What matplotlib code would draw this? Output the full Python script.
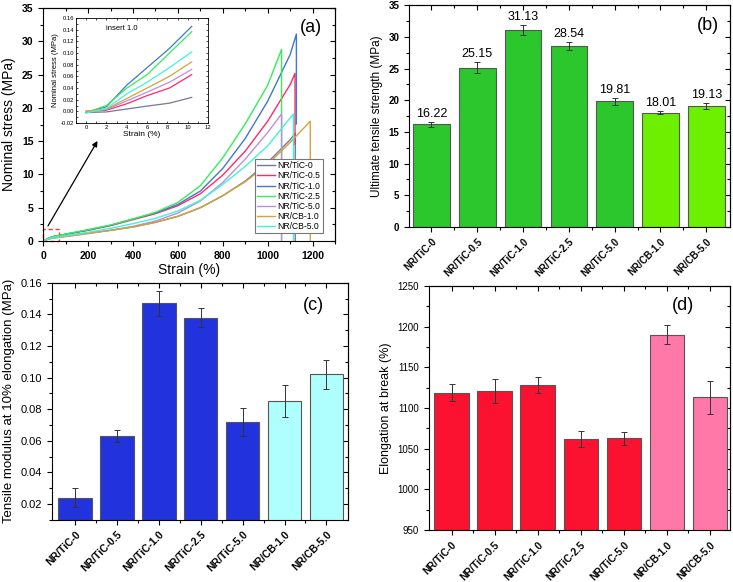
import matplotlib
matplotlib.use('Agg')
import matplotlib.pyplot as plt
from matplotlib.ticker import MultipleLocator, FixedLocator
import numpy as np

plt.rcParams['font.family'] = ['Liberation Sans', 'DejaVu Sans']

samples = ['NR/TiC-0', 'NR/TiC-0.5', 'NR/TiC-1.0', 'NR/TiC-2.5', 'NR/TiC-5.0', 'NR/CB-1.0', 'NR/CB-5.0']
line_colors = ['#77779a', '#ff2a64', '#3f78cc', '#33ee55', '#b890e0', '#d4a33a', '#3ff5d8']

# (a) stress-strain curves (strain %, stress MPa)
strain_tic0 = [0, 25, 50, 100, 200, 300, 400, 500, 600, 700, 800, 900, 1000, 1100, 1123, 1123]
stress_tic0 = [0, 0.35, 0.5, 0.75, 1.2, 1.6, 2.1, 2.8, 3.7, 5.0, 6.8, 9.0, 11.8, 15.2, 16.2, 0]
strain_tic05 = [0, 25, 50, 100, 200, 300, 400, 500, 600, 700, 800, 900, 1000, 1100, 1122, 1122]
stress_tic05 = [0, 0.45, 0.7, 1.0, 1.6, 2.3, 3.2, 4.1, 5.3, 7.1, 9.9, 13.5, 18.0, 23.5, 25.2, 14.5]
strain_tic1 = [0, 25, 50, 100, 200, 300, 400, 500, 600, 700, 800, 900, 1000, 1100, 1128, 1128]
stress_tic1 = [0, 0.45, 0.7, 1.0, 1.65, 2.35, 3.3, 4.2, 5.5, 7.5, 10.9, 15.4, 21.0, 28.0, 31.1, 17.6]
strain_tic25 = [0, 25, 50, 100, 200, 300, 400, 500, 600, 700, 800, 900, 1000, 1062, 1062]
stress_tic25 = [0, 0.45, 0.7, 1.05, 1.7, 2.4, 3.3, 4.3, 5.8, 8.3, 12.5, 17.6, 23.4, 28.8, 0]
strain_tic5 = [0, 25, 50, 100, 200, 300, 400, 500, 600, 700, 800, 900, 1000, 1062, 1062]
stress_tic5 = [0, 0.3, 0.45, 0.65, 1.1, 1.6, 2.2, 3.0, 4.2, 6.0, 8.8, 12.3, 16.3, 19.1, 0]
strain_cb1 = [0, 25, 50, 100, 200, 300, 400, 500, 600, 700, 800, 900, 1000, 1100, 1190, 1190]
stress_cb1 = [0, 0.3, 0.45, 0.7, 1.15, 1.6, 2.1, 2.8, 3.7, 5.0, 6.8, 8.9, 11.5, 14.8, 18.0, 0]
strain_cb5 = [0, 25, 50, 100, 200, 300, 400, 500, 600, 700, 800, 900, 1000, 1115, 1115]
stress_cb5 = [0, 0.35, 0.55, 0.8, 1.3, 1.9, 2.6, 3.4, 4.5, 6.1, 8.5, 11.2, 14.3, 19.1, 0]

# inset: low strain region
inset_strain = [0, 2, 4, 6, 8.2, 10.4]
inset_tic0 = [-0.002, -0.001, 0.004, 0.009, 0.014, 0.024]
inset_tic05 = [0, 0.002, 0.013, 0.027, 0.040, 0.063]
inset_tic1 = [-0.002, 0.008, 0.045, 0.075, 0.108, 0.146]
inset_tic25 = [-0.002, 0.010, 0.040, 0.063, 0.100, 0.137]
inset_tic5 = [0, 0.003, 0.018, 0.033, 0.050, 0.072]
inset_cb1 = [0, 0.004, 0.022, 0.040, 0.060, 0.085]
inset_cb5 = [-0.003, 0.005, 0.030, 0.050, 0.075, 0.102]

# (b) ultimate tensile strength
uts = [16.22, 25.15, 31.13, 28.54, 19.81, 18.01, 19.13]
uts_err = [0.4, 0.9, 0.8, 0.6, 0.5, 0.25, 0.5]
# (c) tensile modulus at 10 %
modulus = [0.024, 0.063, 0.147, 0.138, 0.072, 0.085, 0.102]
modulus_err = [0.006, 0.004, 0.008, 0.006, 0.009, 0.010, 0.009]
# (d) elongation at break
elong = [1119, 1121, 1128, 1062, 1063, 1190, 1113]
elong_err = [10, 15, 10, 10, 8, 12, 20]

bar_colors_b = ['#2cc72c'] * 5 + ['#6cf000'] * 2
bar_colors_c = ['#2233dd'] * 5 + ['#b0ffff'] * 2
bar_colors_d = ['#fa1230'] * 5 + ['#ff78a8'] * 2


def add_inner_ticks(ax, xmajor, xminor, ymajor, yminor):
    ax.tick_params(which='both', direction='out', top=False, right=False, width=0.8)
    ax.tick_params(which='major', length=3.5)
    ax.tick_params(which='minor', length=2)
    sx = ax.secondary_xaxis('top')
    sx.xaxis.set_major_locator(xmajor)
    sx.xaxis.set_minor_locator(xminor)
    sx.tick_params(which='both', direction='in', labeltop=False, width=0.8)
    sx.tick_params(which='major', length=3.5)
    sx.tick_params(which='minor', length=2)
    sy = ax.secondary_yaxis('right')
    sy.yaxis.set_major_locator(ymajor)
    sy.yaxis.set_minor_locator(yminor)
    sy.tick_params(which='both', direction='in', labelright=False, width=0.8)
    sy.tick_params(which='major', length=3.5)
    sy.tick_params(which='minor', length=2)


def bar_panel(ax, values, errors, colors, ymajor, yminor, xfont):
    x = np.arange(len(samples))
    ax.bar(x, values, width=0.8, color=colors, edgecolor='#555555', linewidth=0.8)
    ax.errorbar(x, values, yerr=errors, fmt='none', ecolor='#333333', elinewidth=0.7,
                capsize=2.2, capthick=0.7)
    ax.set_xticks(x)
    ax.set_xticklabels(samples, rotation=45, ha='right', rotation_mode='anchor',
                       fontsize=xfont, fontweight='bold')
    ax.xaxis.set_minor_locator(FixedLocator(x[:-1] + 0.5))
    ax.yaxis.set_major_locator(MultipleLocator(ymajor))
    ax.yaxis.set_minor_locator(MultipleLocator(yminor))
    add_inner_ticks(ax, FixedLocator(x), FixedLocator(x[:-1] + 0.5),
                    MultipleLocator(ymajor), MultipleLocator(yminor))
    return x


fig = plt.figure(figsize=(7.33, 5.82), dpi=100)

# ---- (a)
ax_a = fig.add_axes([0.059, 0.586, 0.398, 0.400])
curves = [(strain_tic0, stress_tic0), (strain_tic05, stress_tic05), (strain_tic1, stress_tic1),
          (strain_tic25, stress_tic25), (strain_tic5, stress_tic5), (strain_cb1, stress_cb1),
          (strain_cb5, stress_cb5)]
for (sx_, sy_), c, name in zip(curves, line_colors, samples):
    ax_a.plot(sx_, sy_, color=c, lw=1.0, label=name)
ax_a.set_xlim(0, 1300)
ax_a.set_ylim(0, 35)
ax_a.xaxis.set_major_locator(MultipleLocator(200))
ax_a.xaxis.set_minor_locator(MultipleLocator(100))
ax_a.yaxis.set_major_locator(MultipleLocator(5))
ax_a.yaxis.set_minor_locator(MultipleLocator(2.5))
ax_a.tick_params(labelsize=7.5)
for lab in ax_a.get_xticklabels() + ax_a.get_yticklabels():
    lab.set_fontweight('bold')
add_inner_ticks(ax_a, MultipleLocator(200), MultipleLocator(100), MultipleLocator(5), MultipleLocator(2.5))
ax_a.set_xlabel('Strain (%)', fontsize=10, labelpad=2)
ax_a.set_ylabel('Nominal stress (MPa)', fontsize=10, labelpad=4)
ax_a.text(0.955, 0.955, '(a)', transform=ax_a.transAxes, fontsize=13, ha='right', va='top')
ax_a.add_patch(plt.Rectangle((-3, 0), 73, 1.8, fill=False, ls=(0, (3, 2)), ec='#ff3333', lw=1.0,
                             clip_on=False))
ax_a.annotate('', xy=(248, 15.4), xytext=(15, 1.9),
              arrowprops=dict(arrowstyle='-|>', color='black', lw=0.9, mutation_scale=8))
leg = ax_a.legend(loc='lower right', bbox_to_anchor=(0.958, 0.035), fontsize=6.2, frameon=True,
                  fancybox=False, framealpha=1, edgecolor='#777777', handlelength=2.0,
                  borderpad=0.25, labelspacing=0.12, handletextpad=0.35, borderaxespad=0)
leg.get_frame().set_linewidth(0.8)

# inset
ax_in = fig.add_axes([0.1037, 0.7887, 0.180, 0.180])
inset_series = [inset_tic0, inset_tic05, inset_tic1, inset_tic25, inset_tic5, inset_cb1, inset_cb5]
for ys, c in zip(inset_series, line_colors):
    ax_in.plot(inset_strain, ys, color=c, lw=0.9)
ax_in.set_xlim(-1, 12)
ax_in.set_ylim(-0.02, 0.16)
ax_in.xaxis.set_major_locator(MultipleLocator(2))
ax_in.yaxis.set_major_locator(MultipleLocator(0.02))
ax_in.yaxis.set_minor_locator(MultipleLocator(0.01))
ax_in.xaxis.set_minor_locator(MultipleLocator(1))
ax_in.yaxis.set_major_formatter(matplotlib.ticker.FormatStrFormatter('%.2f'))
ax_in.tick_params(which='both', labelsize=4.2, direction='in', top=True, right=True, length=1.5, width=0.5, pad=1.5)
ax_in.set_xlabel('Strain (%)', fontsize=6, labelpad=1)
ax_in.set_ylabel('Nominal stress (MPa)', fontsize=5.5, labelpad=1)
ax_in.text(2, 0.14, 'insert 1.0', fontsize=5.5)
for sp in ax_in.spines.values():
    sp.set_linewidth(0.6)

# ---- (b)
ax_b = fig.add_axes([0.558, 0.610, 0.438, 0.381])
xb = bar_panel(ax_b, uts, uts_err, bar_colors_b, 5, 2.5, 7)
ax_b.set_xlim(-0.49, 6.52)
ax_b.set_ylim(0, 35)
for lab in ax_b.get_yticklabels():
    lab.set_fontweight('bold')
ax_b.tick_params(axis='y', labelsize=7)
for xi, v, e in zip(xb, uts, uts_err):
    ax_b.text(xi, v + e + 0.3, '%.2f' % v, ha='center', va='bottom', fontsize=9)
ax_b.set_ylabel('Ultimate tensile strength (MPa)', fontsize=8.5, labelpad=4)
ax_b.text(0.965, 0.945, '(b)', transform=ax_b.transAxes, fontsize=13, ha='right', va='top')

# ---- (c)
ax_c = fig.add_axes([0.071, 0.107, 0.404, 0.407])
bar_panel(ax_c, modulus, modulus_err, bar_colors_c, 0.02, 0.01, 7.5)
ax_c.set_xlim(-0.55, 6.52)
ax_c.set_ylim(0.01, 0.16)
ax_c.tick_params(axis='y', labelsize=8)
ax_c.set_ylabel('Tensile modulus at 10% elongation (MPa)', fontsize=9.5, labelpad=4)
ax_c.text(0.92, 0.94, '(c)', transform=ax_c.transAxes, fontsize=13, ha='right', va='top')

# ---- (d)
ax_d = fig.add_axes([0.585, 0.089, 0.411, 0.420])
bar_panel(ax_d, elong, elong_err, bar_colors_d, 50, 25, 7.2)
ax_d.set_xlim(-0.53, 6.47)
ax_d.set_ylim(950, 1250)
ax_d.tick_params(axis='y', labelsize=7)
ax_d.set_ylabel('Elongation at break (%)', fontsize=9, labelpad=4)
ax_d.text(0.88, 0.955, '(d)', transform=ax_d.transAxes, fontsize=13, ha='right', va='top')

fig.savefig('out.png', dpi=100)
